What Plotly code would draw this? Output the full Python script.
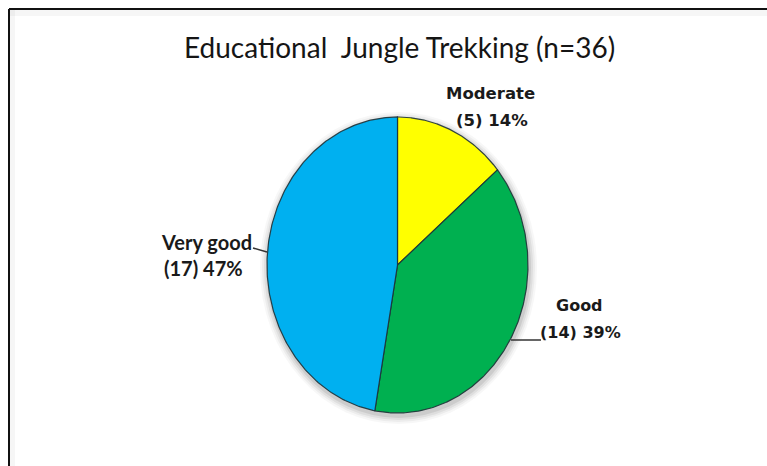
import numpy as np
import plotly.graph_objects as go

# Survey responses (n=36)
categories = ["Moderate", "Good", "Very good"]
counts = [5, 14, 17]
colors = ["#FFFF00", "#00B050", "#00B0F0"]
title_text = "Educational  Jungle Trekking (n=36)"

W, H = 767, 466
# Pie geometry in pixel-like axis units (slightly taller than wide)
cx, cy = 397.5, 265.0
rx, ry = 130.5, 148.0

total = sum(counts)
fracs = [c / total for c in counts]

fig = go.Figure()

# soft drop shadow behind the pie
shapes = []
for grow, alpha in [(8, 0.03), (6, 0.045), (4, 0.06), (2, 0.08)]:
    shapes.append(dict(type="circle", xref="x", yref="y",
                       x0=cx - rx - grow + 1, x1=cx + rx + grow + 1,
                       y0=cy - ry - grow + 3, y1=cy + ry + grow + 3,
                       fillcolor=f"rgba(0,0,0,{alpha})", line=dict(width=0),
                       layer="below"))

# wedges: clockwise from 12 o'clock
start = 0.0
for name, frac, col in zip(categories, fracs, colors):
    a0, a1 = start * 2 * np.pi, (start + frac) * 2 * np.pi
    t = np.linspace(a0, a1, 200)
    xs = np.concatenate([[cx], cx + rx * np.sin(t), [cx]])
    ys = np.concatenate([[cy], cy - ry * np.cos(t), [cy]])
    fig.add_trace(go.Scatter(x=xs, y=ys, mode="lines", fill="toself",
                             fillcolor=col,
                             line=dict(color="rgba(30,50,55,0.9)", width=1.2),
                             name=name, hoverinfo="name", showlegend=False))
    start += frac

# labels: category name and "(count) pct%"
label_pos = {
    "Moderate": ((490, 93), (492, 120)),
    "Good": ((579, 305), (580, 332)),
    "Very good": ((206, 242), (203, 268)),
}
label_font = {
    "Moderate": dict(family="DejaVu Sans", size=16.5, color="#1a1a1a"),
    "Good": dict(family="DejaVu Sans", size=16, color="#1a1a1a"),
    "Very good": dict(family="Lato", size=20, color="#1a1a1a"),
}
annotations = []
for name, c in zip(categories, counts):
    pct = round(100 * c / total)
    (x1, y1), (x2, y2) = label_pos[name]
    for (x, y), txt in [((x1, y1), name), ((x2, y2), f"({c}) {pct}%")]:
        annotations.append(dict(x=x, y=y, xref="x", yref="y", text=f"<b>{txt}</b>",
                                showarrow=False, xanchor="center", yanchor="middle",
                                font=label_font[name]))

# title
annotations.append(dict(x=399, y=47, xref="x", yref="y", text=title_text,
                        showarrow=False, xanchor="center", yanchor="middle",
                        font=dict(family="Lato", size=28, color="#151515")))

# leader lines
shapes.append(dict(type="line", xref="x", yref="y", x0=253, y0=248, x1=267, y1=252,
                   line=dict(color="#333", width=1.5)))
shapes.append(dict(type="line", xref="x", yref="y", x0=511, y0=340, x1=541, y1=340,
                   line=dict(color="#333", width=1.5)))

# faint inner shading along the frame
shapes.append(dict(type="rect", xref="paper", yref="paper", x0=10 / W, x1=1,
                   y0=1 - 16 / H, y1=1 - 10 / H, fillcolor="rgba(0,0,0,0.035)",
                   line=dict(width=0), layer="below"))
shapes.append(dict(type="rect", xref="paper", yref="paper", x0=10 / W, x1=15 / W,
                   y0=0, y1=1 - 10 / H, fillcolor="rgba(0,0,0,0.035)",
                   line=dict(width=0), layer="below"))

# frame: top and left edges
shapes.append(dict(type="line", xref="paper", yref="paper", x0=9 / W, x1=1, y0=1 - 9 / H, y1=1 - 9 / H,
                   line=dict(color="#111", width=2)))
shapes.append(dict(type="line", xref="paper", yref="paper", x0=9 / W, x1=9 / W, y0=0, y1=1 - 9 / H,
                   line=dict(color="#111", width=2)))

fig.update_layout(
    width=W, height=H,
    margin=dict(l=0, r=0, t=0, b=0),
    paper_bgcolor="white", plot_bgcolor="white",
    xaxis=dict(range=[0, W], visible=False, fixedrange=True),
    yaxis=dict(range=[H, 0], visible=False, fixedrange=True),
    shapes=shapes, annotations=annotations,
    showlegend=False,
)

fig.write_html("out.html")
